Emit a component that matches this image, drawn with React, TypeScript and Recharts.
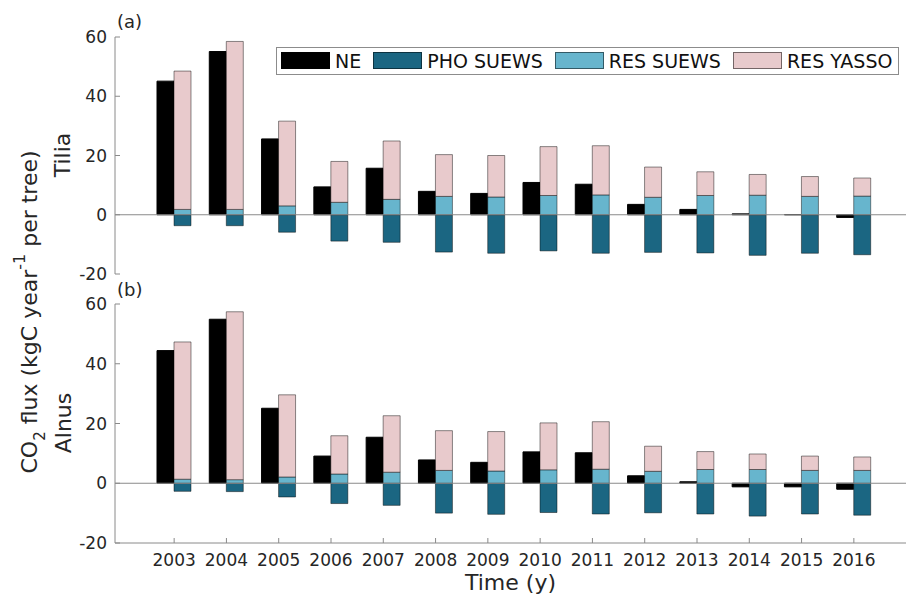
import React from 'react';
import { BarChart, Bar, XAxis, YAxis, ReferenceLine, Legend } from 'recharts';

const FONT = '"DejaVu Sans", Verdana, sans-serif';

const years = ['2003', '2004', '2005', '2006', '2007', '2008', '2009', '2010', '2011', '2012', '2013', '2014', '2015', '2016'];
const yTicks = [-20, 0, 20, 40, 60];
const seriesNames = ['NE', 'PHO SUEWS', 'RES SUEWS', 'RES YASSO'];

// Panel (a) Tilia
const tiliaNE = [45.1, 55.1, 25.6, 9.4, 15.7, 7.9, 7.2, 10.9, 10.3, 3.5, 1.8, 0.3, 0.05, -0.9];
const tiliaPHO = [-3.7, -3.7, -5.9, -8.9, -9.3, -12.6, -13.0, -12.2, -13.0, -12.7, -12.9, -13.7, -13.0, -13.5];
const tiliaRESS = [1.8, 1.8, 3.0, 4.2, 5.2, 6.2, 6.0, 6.5, 6.7, 5.9, 6.5, 6.6, 6.2, 6.3];
const tiliaRESY = [46.7, 56.7, 28.6, 13.8, 19.7, 14.1, 14.0, 16.5, 16.6, 10.2, 8.0, 7.0, 6.7, 6.1];

// Panel (b) Alnus
const alnusNE = [44.4, 54.9, 25.1, 9.1, 15.4, 7.8, 7.0, 10.5, 10.2, 2.5, 0.5, -1.2, -1.2, -2.0];
const alnusPHO = [-2.7, -2.8, -4.6, -6.8, -7.4, -10.0, -10.4, -9.8, -10.3, -9.9, -10.3, -11.0, -10.3, -10.7];
const alnusRESS = [1.35, 1.2, 2.1, 3.1, 3.7, 4.3, 4.1, 4.5, 4.7, 4.0, 4.6, 4.6, 4.3, 4.3];
const alnusRESY = [45.95, 56.2, 27.5, 12.8, 18.9, 13.3, 13.2, 15.7, 15.9, 8.4, 6.0, 5.2, 4.8, 4.5];

const COLORS: Record<string, string> = {
  'NE': '#000000',
  'PHO SUEWS': '#1b6682',
  'RES SUEWS': '#67b5cd',
  'RES YASSO': '#e8cacc',
};

const AXIS_GRAY = '#8a8a8a';
const TEXT = '#262626';

function buildRows(ne: number[], pho: number[], resS: number[], resY: number[]) {
  return years.map((y, i) => ({ year: y, ne: ne[i], pho: pho[i], resS: resS[i], resY: resY[i] }));
}

const tiliaRows = buildRows(tiliaNE, tiliaPHO, tiliaRESS, tiliaRESY);
const alnusRows = buildRows(alnusNE, alnusPHO, alnusRESS, alnusRESY);

function LegendBox(props: any) {
  const payload: any[] = props.payload || [];
  return (
    <div
      style={{
        boxSizing: 'border-box',
        width: 623,
        height: 28.3,
        border: '1px solid #8c8c8c',
        background: '#fff',
        display: 'flex',
        alignItems: 'center',
        paddingLeft: 4,
        fontFamily: FONT,
        fontSize: 19,
        color: '#111',
        whiteSpace: 'nowrap',
      }}
    >
      {payload.map((e, i) => (
        <div key={i} style={{ display: 'flex', alignItems: 'center', marginRight: 12 }}>
          <span
            style={{
              display: 'inline-block',
              boxSizing: 'border-box',
              width: 49,
              height: 17,
              background: COLORS[e.value] || e.color,
              border: '1px solid rgba(0,0,0,0.5)',
              marginRight: 5,
            }}
          />
          <span style={{ lineHeight: '20px' }}>{e.value}</span>
        </div>
      ))}
    </div>
  );
}

type PanelProps = {
  data: any[];
  top: number;
  height: number;
  margin: { top: number; right: number; bottom: number; left: number };
  bottomAxisHeight: number;
  showLabels: boolean;
  showLegend: boolean;
};

function Panel({ data, top, height, margin, bottomAxisHeight, showLabels, showLegend }: PanelProps) {
  const stackStroke = 'rgba(0,0,0,0.45)';
  return (
    <div style={{ position: 'absolute', left: 0, top, width: 906, height }}>
      <BarChart
        width={906}
        height={height}
        data={data}
        margin={margin}
        barGap={0}
        barSize={17}
        stackOffset="sign"
      >
        <XAxis
          dataKey="year"
          type="category"
          interval={0}
          padding={{ left: 33, right: 26 }}
          height={bottomAxisHeight}
          axisLine={{ stroke: AXIS_GRAY }}
          tickLine={{ stroke: AXIS_GRAY }}
          tickSize={-5}
          tickMargin={16}
          tick={showLabels ? { fill: TEXT, fontSize: 17, fontFamily: FONT } : false}
          label={
            showLabels
              ? { value: 'Time (y)', position: 'insideBottom', offset: 6, fill: TEXT, fontSize: 22, fontFamily: FONT }
              : undefined
          }
        />
        <XAxis
          xAxisId="top"
          dataKey="year"
          type="category"
          orientation="top"
          interval={0}
          padding={{ left: 33, right: 26 }}
          height={0}
          axisLine={{ stroke: AXIS_GRAY }}
          tickLine={{ stroke: AXIS_GRAY }}
          tickSize={-5}
          tick={false}
        />
        <YAxis
          type="number"
          domain={[-20, 60]}
          ticks={yTicks}
          interval={0}
          width={115}
          allowDataOverflow
          axisLine={{ stroke: AXIS_GRAY }}
          tickLine={{ stroke: AXIS_GRAY }}
          tickSize={-5}
          tickMargin={13}
          tick={{ fill: TEXT, fontSize: 17, fontFamily: FONT }}
        />
        <Bar dataKey="ne" name={seriesNames[0]} stackId="ne" fill={COLORS['NE']} stroke="#000" isAnimationActive={false} />
        <Bar dataKey="pho" name={seriesNames[1]} stackId="flux" fill={COLORS['PHO SUEWS']} stroke={stackStroke} isAnimationActive={false} />
        <Bar dataKey="resS" name={seriesNames[2]} stackId="flux" fill={COLORS['RES SUEWS']} stroke={stackStroke} isAnimationActive={false} />
        <Bar dataKey="resY" name={seriesNames[3]} stackId="flux" fill={COLORS['RES YASSO']} stroke={stackStroke} isAnimationActive={false} />
        <ReferenceLine y={0} stroke={AXIS_GRAY} strokeWidth={1} ifOverflow="visible" />
        {showLegend && (
          <Legend
            layout="horizontal"
            verticalAlign="middle"
            align="center"
            content={<LegendBox />}
            wrapperStyle={{ left: 276, top: 46.7, width: 623, height: 28.3 }}
          />
        )}
      </BarChart>
    </div>
  );
}

function Overlay() {
  return (
    <svg
      width={906}
      height={596}
      style={{ position: 'absolute', left: 0, top: 0, pointerEvents: 'none' }}
      fontFamily={FONT}
    >
      <text x={117} y={28} fontSize={18} fill={TEXT}>(a)</text>
      <text x={117} y={296} fontSize={18} fill={TEXT}>(b)</text>
      <text transform="translate(70,155) rotate(-90)" textAnchor="middle" fontSize={22} fill={TEXT}>Tilia</text>
      <text transform="translate(71,423) rotate(-90)" textAnchor="middle" fontSize={22} fill={TEXT}>Alnus</text>
      <text transform="translate(37,312) rotate(-90)" textAnchor="middle" fontSize={22} fill={TEXT}>
        <tspan>CO</tspan>
        <tspan dy={8} fontSize={15}>2</tspan>
        <tspan dy={-8}> flux (kgC year</tspan>
        <tspan dy={-12} fontSize={16}>-1</tspan>
        <tspan dy={12}> per tree)</tspan>
      </text>
    </svg>
  );
}

export default function App() {
  return (
    <div style={{ position: 'absolute', left: 0, top: 0, width: 906, height: 596, background: '#fff', overflow: 'hidden' }}>
      <Panel
        data={tiliaRows}
        top={0}
        height={300}
        margin={{ top: 37, right: 0, bottom: 26, left: 0 }}
        bottomAxisHeight={0}
        showLabels={false}
        showLegend={true}
      />
      <Panel
        data={alnusRows}
        top={280}
        height={316}
        margin={{ top: 24, right: 0, bottom: 0, left: 0 }}
        bottomAxisHeight={53}
        showLabels={true}
        showLegend={false}
      />
      <Overlay />
    </div>
  );
}
